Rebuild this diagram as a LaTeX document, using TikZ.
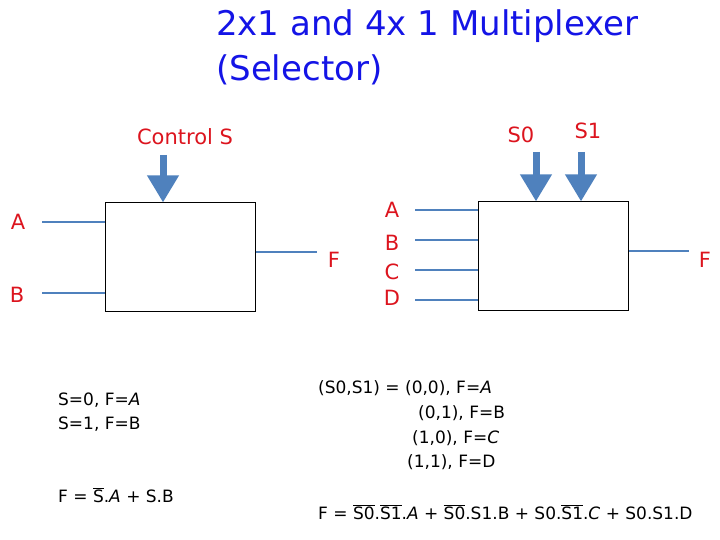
\documentclass[tikz,border=0pt]{standalone}
\usepackage{fontspec}
\setmainfont{DejaVu Sans}
\usepackage{xcolor}
\usetikzlibrary{arrows.meta,positioning}
\definecolor{muxblue}{RGB}{79,129,189}
\definecolor{muxred}{RGB}{220,20,30}
\definecolor{titleblue}{RGB}{20,20,230}
\newcommand{\fsz}[1]{\fontsize{#1}{1.2\dimexpr#1pt\relax}\selectfont}
\newcommand{\nt}[1]{$\overline{\mbox{#1}}$}
\tikzset{
  muxbox/.style={
    rectangle,
    draw=black,
    line width=1pt,
    minimum width=150pt,
    minimum height=108pt,
    inner sep=0pt
  },
  pinline/.style={
    draw=muxblue,
    line width=2.6pt
  },
  selarrow/.style={
    -{Triangle[width=30pt,length=27pt]},
    line width=7pt,
    draw=muxblue
  },
  pinlabel/.style={
    text=muxred,
    font=\fsz{21},
    inner sep=0pt
  },
  eqtext/.style={
    font=\fsz{17},
    anchor=west,
    inner sep=0pt
  }
}

\begin{document}
\begin{tikzpicture}[x=1pt,y=-1pt]
\useasboundingbox (0,0) rectangle (720,540);
% title
\node[anchor=west, text=titleblue, font=\fsz{34}, inner sep=0pt] (title1) at (216,26) {2x1 and 4x 1 Multiplexer};
\node[anchor=west, text=titleblue, font=\fsz{34}, inner sep=0pt] (title2) at (216,70) {(Selector)};

% 2x1 multiplexer
\node[muxbox, minimum width=150pt] (muxa) at (180,257) {};
\node[pinlabel] (ctrl) at (185,137) {Control S};
\coordinate (ctrltop) at (163,155);
\draw[selarrow] (ctrltop) -- (ctrltop |- muxa.north);
\node[pinlabel] (ina) at (18,222) {A};
\node[pinlabel] (inb) at (17,295) {B};
\coordinate (ina0) at (42,222);
\coordinate (inb0) at (42,293);
\draw[pinline] (ina0) -- (ina0 -| muxa.west);
\draw[pinline] (inb0) -- (inb0 -| muxa.west);
\coordinate (outa) at (317,252);
\draw[pinline] (outa -| muxa.east) -- (outa);
\node[pinlabel] (fa) at (334,260) {F};

% 4x1 multiplexer
\node[muxbox] (muxb) at (553,256) {};
\node[pinlabel] (s0) at (521,135) {S0};
\node[pinlabel] (s1) at (588,131) {S1};
\coordinate (s0top) at (536,152);
\coordinate (s1top) at (581,152);
\draw[selarrow] (s0top) -- (s0top |- muxb.north);
\draw[selarrow] (s1top) -- (s1top |- muxb.north);
\foreach \nm/\yy/\ly in {A/210/210, B/240/243, C/270/272, D/300/298}{
  \node[pinlabel] (lbl\nm) at (392,\ly) {\nm};
  \coordinate (pin\nm) at (415,\yy);
  \draw[pinline] (pin\nm) -- (pin\nm -| muxb.west);
}
\coordinate (outb) at (689,251);
\draw[pinline] (outb -| muxb.east) -- (outb);
\node[pinlabel] (fb) at (705,260) {F};

% truth text, 2x1
\node[eqtext] (ta1) at (58,400) {S=0, F=\textit{A}};
\node[eqtext] (ta2) at (58,424) {S=1, F=B};
\node[eqtext] (eqa) at (58,495) {F = \nt{S}.\textit{A} + S.B};

% truth text, 4x1
\node[eqtext] (tb1) at (318,388) {(S0,S1) = (0,0), F=\textit{A}};
\node[eqtext] (tb2) at (418,413) {(0,1), F=B};
\node[eqtext] (tb3) at (412,438) {(1,0), F=\textit{C}};
\node[eqtext] (tb4) at (407,462) {(1,1), F=D};
\node[eqtext] (eqb) at (318,512) {F = \nt{S0}.\nt{S1}.\textit{A} + \nt{S0}.S1.B + S0.\nt{S1}.\textit{C} + S0.S1.D};
\end{tikzpicture}
\end{document}
